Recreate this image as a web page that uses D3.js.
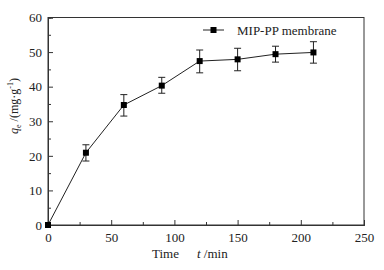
<!DOCTYPE html>
<html><head><meta charset="utf-8">
<script src="https://cdn.jsdelivr.net/npm/d3@7"></script>
<style>body{margin:0;background:#fff}svg{display:block}text{font-family:"Liberation Serif","Times New Roman",serif}</style>
</head><body>
<svg id="c" width="384" height="270"></svg>
<script>
const times = [0, 30, 60, 90, 120, 150, 180, 210];
const qe = [0, 20.9, 34.7, 40.3, 47.4, 47.9, 49.4, 49.9];
const errLow = [0, 18.5, 31.5, 38.1, 44.0, 44.6, 47.1, 46.8];
const errHigh = [0, 23.2, 37.7, 42.7, 50.6, 51.1, 51.7, 53.0];
const xTicks = [0, 50, 100, 150, 200, 250];
const yTicks = [0, 10, 20, 30, 40, 50, 60];
const seriesName = "MIP-PP membrane";

const svg = d3.select("#c");
const m = {l:48, r:364, t:17.5, b:225};
const x = d3.scaleLinear().domain([0,250]).range([m.l, m.r]);
const y = d3.scaleLinear().domain([0,60]).range([m.b, m.t]);

svg.append("rect").attr("x",m.l).attr("y",m.t).attr("width",m.r-m.l).attr("height",m.b-m.t)
  .attr("fill","none").attr("stroke","#333").attr("stroke-width",1);

const xa = svg.append("g").attr("transform",`translate(0,${m.b})`)
  .call(d3.axisBottom(x).tickValues(xTicks).tickSize(-5).tickPadding(8));
xa.append("g").call(d3.axisBottom(x).tickValues(d3.range(25,250,50)).tickSize(-3).tickFormat(""));
const ya = svg.append("g").attr("transform",`translate(${m.l},0)`)
  .call(d3.axisLeft(y).tickValues(yTicks).tickSize(-5).tickPadding(6));
ya.append("g").call(d3.axisLeft(y).tickValues(d3.range(5,60,10)).tickSize(-3).tickFormat(""));
svg.selectAll(".domain").attr("stroke","#333");
svg.selectAll(".tick line").attr("stroke","#333");
svg.selectAll(".tick text").attr("font-size",13).attr("fill","#222")
  .attr("font-family","Liberation Serif");

const data = times.map((t,i)=>({t, q:qe[i], lo:errLow[i], hi:errHigh[i]}));
svg.append("path").datum(data).attr("fill","none").attr("stroke","#222").attr("stroke-width",1)
  .attr("d", d3.line().x(d=>x(d.t)).y(d=>y(d.q)));

const eb = svg.append("g").attr("stroke","#222").attr("stroke-width",1);
data.filter(d=>d.hi>d.lo).forEach(d=>{
  eb.append("line").attr("x1",x(d.t)).attr("x2",x(d.t)).attr("y1",y(d.lo)).attr("y2",y(d.hi));
  eb.append("line").attr("x1",x(d.t)-3.5).attr("x2",x(d.t)+3.5).attr("y1",y(d.lo)).attr("y2",y(d.lo));
  eb.append("line").attr("x1",x(d.t)-3.5).attr("x2",x(d.t)+3.5).attr("y1",y(d.hi)).attr("y2",y(d.hi));
});
svg.append("g").selectAll("rect").data(data).join("rect")
  .attr("x",d=>x(d.t)-3).attr("y",d=>y(d.q)-3).attr("width",6).attr("height",6).attr("fill","#000");

// legend
const lg = svg.append("g");
lg.append("line").attr("x1",203).attr("x2",224).attr("y1",30).attr("y2",30).attr("stroke","#222");
lg.append("rect").attr("x",210.5).attr("y",27).attr("width",6).attr("height",6).attr("fill","#000");
lg.append("text").attr("x",237).attr("y",34.5).attr("font-size",13).attr("fill","#222").text(seriesName);

// axis labels
const xl = svg.append("text").attr("x",152).attr("y",258).attr("font-size",13).attr("fill","#222");
xl.append("tspan").text("Time");
xl.append("tspan").attr("dx",18).attr("font-style","italic").text("t");
xl.append("tspan").text(" /min");

const yl = svg.append("text").attr("transform","translate(18,106) rotate(-90)")
  .attr("text-anchor","middle").attr("font-size",12).attr("fill","#222");
yl.append("tspan").attr("font-style","italic").text("q");
yl.append("tspan").attr("font-size",8).attr("dy",3).text("e");
yl.append("tspan").attr("dy",-3).text(" /(mg·g");
yl.append("tspan").attr("font-size",8).attr("dy",-5).text("-1");
yl.append("tspan").attr("dy",5).text(")");
</script>
</body></html>
